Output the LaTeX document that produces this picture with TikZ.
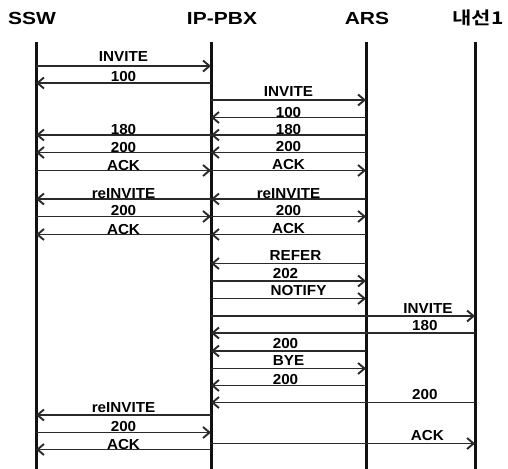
\documentclass[tikz,border=0pt]{standalone}
\usepackage{fontspec}
\setmainfont{Liberation Sans}
\newfontfamily\headfont[FakeStretch=1.2]{Liberation Sans}
\newfontfamily\krfont[FakeStretch=1.2,BoldFont={* Bold}]{Noto Sans CJK KR}
\newfontfamily\lblfont[FakeStretch=1.05]{Liberation Sans}
\usetikzlibrary{arrows.meta}
\definecolor{lineblk}{HTML}{111111}
\definecolor{msggray}{HTML}{2A2A2A}
\tikzset{
  headnode/.style={
    anchor=base, inner sep=0pt,
    font=\headfont\fontsize{17.5}{20}\selectfont\bfseries
  },
  lifeline/.style={
    line width=3pt, color=lineblk
  },
  msg/.style={
    -{Straight Barb[length=6.5pt, width=11pt, line width=1.9pt]},
    line width=1.3pt, color=msggray
  },
  lbl/.style={
    anchor=base, inner sep=0pt, yshift=1pt, text=black,
    font=\lblfont\fontsize{14.5}{16}\selectfont\bfseries
  },
}

\begin{document}
\begin{tikzpicture}[x=1pt, y=-1pt]
  \useasboundingbox (0,0) rectangle (508,468);

  % headers
  \node[headnode] (hssw) at (32,25) {SSW};
  \node[headnode] (hpbx) at (222,25) {IP-PBX};
  \node[headnode] (hars) at (367,25) {ARS};
  \node[headnode, font=\krfont\fontsize{17.5}{20}\selectfont\bfseries] (hext) at (478,25) {내선1};

  % lifelines
  \coordinate (ssw) at (36,42);
  \coordinate (pbx) at (211,42);
  \coordinate (ars) at (366,42);
  \coordinate (ext) at (475,42);
  \coordinate (sswend) at (36,470);
  \coordinate (pbxend) at (211,470);
  \coordinate (arsend) at (366,470);
  \coordinate (extend) at (475,470);
  \draw[lifeline] (ssw) -- (sswend);
  \draw[lifeline] (pbx) -- (pbxend);
  \draw[lifeline] (ars) -- (arsend);
  \draw[lifeline] (ext) -- (extend);

  % call setup
  \draw[msg] (ssw |- 0,66) -- node[lbl, yshift=3pt] {INVITE} (pbx |- 0,66);
  \draw[msg] (pbx |- 0,83) -- node[lbl] {100} (ssw |- 0,83);
  \draw[msg] (pbx |- 0,100) -- node[lbl, yshift=2pt] {INVITE} (ars |- 0,100);
  \draw[msg] (ars |- 0,117.5) -- node[lbl, yshift=-1pt] {100} (pbx |- 0,117.5);
  \draw[msg] (ars |- 0,135) -- node[lbl, yshift=-1pt] {180} (pbx |- 0,135);
  \draw[msg] (pbx |- 0,135) -- node[lbl] {180} (ssw |- 0,135);
  \draw[msg] (ars |- 0,152.5) -- node[lbl] {200} (pbx |- 0,152.5);
  \draw[msg] (pbx |- 0,152.5) -- node[lbl, yshift=-1pt] {200} (ssw |- 0,152.5);
  \draw[msg] (ssw |- 0,170.5) -- node[lbl, yshift=-1pt] {ACK} (pbx |- 0,170.5);
  \draw[msg] (pbx |- 0,170.5) -- node[lbl] {ACK} (ars |- 0,170.5);

  % re-invite
  \draw[msg] (ars |- 0,199) -- node[lbl] {reINVITE} (pbx |- 0,199);
  \draw[msg] (pbx |- 0,199) -- node[lbl] {reINVITE} (ssw |- 0,199);
  \draw[msg] (ssw |- 0,216.5) -- node[lbl] {200} (pbx |- 0,216.5);
  \draw[msg] (pbx |- 0,216.5) -- node[lbl] {200} (ars |- 0,216.5);
  \draw[msg] (ars |- 0,234.5) -- node[lbl] {ACK} (pbx |- 0,234.5);
  \draw[msg] (pbx |- 0,234.5) -- node[lbl, yshift=-1pt] {ACK} (ssw |- 0,234.5);

  % transfer
  \draw[msg] (ars |- 0,263.5) -- node[lbl, xshift=7pt, yshift=2pt] {REFER} (pbx |- 0,263.5);
  \draw[msg] (pbx |- 0,281) -- node[lbl, xshift=-3pt, yshift=2pt] {202} (ars |- 0,281);
  \draw[msg] (pbx |- 0,298.5) -- node[lbl, xshift=10pt, yshift=2pt] {NOTIFY} (ars |- 0,298.5);
  \draw[msg] (pbx |- 0,316) -- node[lbl, pos=0.822, yshift=2pt] {INVITE} (ext |- 0,316);
  \draw[msg] (ext |- 0,333) -- node[lbl, pos=0.19, yshift=2pt] {180} (pbx |- 0,333);
  \draw[msg] (ars |- 0,351) -- node[lbl, xshift=-3pt, yshift=2pt] {200} (pbx |- 0,351);
  \draw[msg] (pbx |- 0,368.5) -- node[lbl, yshift=2pt] {BYE} (ars |- 0,368.5);
  \draw[msg] (ars |- 0,385.5) -- node[lbl, xshift=-3pt] {200} (pbx |- 0,385.5);
  \draw[msg] (ext |- 0,402.5) -- node[lbl, pos=0.19, yshift=2pt] {200} (pbx |- 0,402.5);

  % re-invite toward SSW
  \draw[msg] (pbx |- 0,415) -- node[lbl, yshift=2pt] {reINVITE} (ssw |- 0,415);
  \draw[msg] (ssw |- 0,432.5) -- node[lbl] {200} (pbx |- 0,432.5);
  \draw[msg] (pbx |- 0,443.5) -- node[lbl, pos=0.82, yshift=2pt] {ACK} (ext |- 0,443.5);
  \draw[msg] (pbx |- 0,449.5) -- node[lbl, yshift=-1pt] {ACK} (ssw |- 0,449.5);
\end{tikzpicture}
\end{document}
